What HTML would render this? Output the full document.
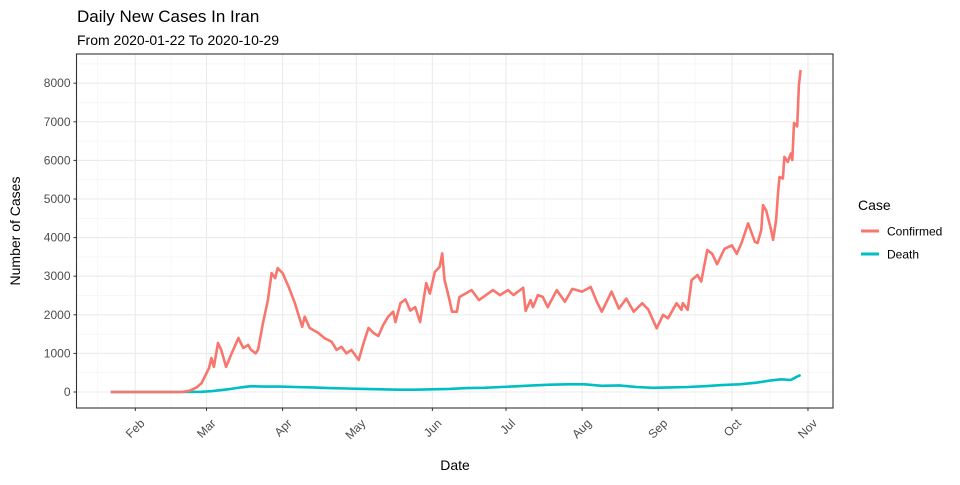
<!DOCTYPE html>
<html><head><meta charset="utf-8"><style>
body{margin:0;background:#fff;font-family:"Liberation Sans",sans-serif}
svg text{font-family:"Liberation Sans",sans-serif}
</style></head><body>
<svg id="c" width="960" height="480" xmlns="http://www.w3.org/2000/svg">
<text x="77" y="22" font-size="17" fill="#000">Daily New Cases In Iran</text>
<text x="77" y="45" font-size="14" fill="#000">From 2020-01-22 To 2020-10-29</text>
<g id="grid"></g><g id="series"></g><g id="axes"></g>
<text x="455" y="470" font-size="14" fill="#000" text-anchor="middle">Date</text>
<text transform="translate(20,231) rotate(-90)" font-size="14" fill="#000" text-anchor="middle">Number of Cases</text>
<g>
<text x="858" y="210" font-size="14" fill="#000">Case</text>
<g><line x1="861" x2="879" y1="231" y2="231" stroke="#F8766D" stroke-width="3"/><text x="887" y="235.5" font-size="12" fill="#000">Confirmed</text></g>
<g><line x1="861" x2="879" y1="254" y2="254" stroke="#00BFC4" stroke-width="3"/><text x="887" y="258.5" font-size="12" fill="#000">Death</text></g>
</g>
</svg>
<script>
// days since 2020-01-01
const confDays=[21,50,53,56,58,61,62,63,64.7,66,68,70,73,75,77,78,80,81,83,85,86.5,88,89,91,93.5,96,99,100,102,105.5,108,111,113,115,117,119,122,124,126,128,130,132,134,136,137,139,141,143,145,147,149.5,151,153,155,156,157,159,160,162,163,168,171,176.7,179.5,182.8,185,189,190,192,193,195,197,199,202.7,206,209,213,216.5,219,221,225,228,231,234,237.5,240,243.4,246,248,251.5,253.5,254,256,257.6,260,261.5,264,266,268,271,274,276,278,280.6,283.4,284.5,286,286.7,288,290,290.8,292,292.8,293.4,294.8,295.4,296.8,298,298.6,299.3,300.6,301.3,302];
const confVals=[0,0,30,120,230,620,880,650,1270,1090,650,960,1400,1140,1220,1100,1000,1100,1790,2380,3080,2950,3210,3080,2720,2300,1690,1950,1660,1530,1400,1300,1090,1170,1000,1090,830,1270,1660,1530,1450,1740,1950,2080,1810,2300,2400,2110,2200,1810,2820,2550,3110,3240,3590,2900,2380,2080,2080,2460,2640,2380,2640,2510,2640,2510,2700,2100,2380,2200,2510,2460,2200,2640,2340,2670,2600,2720,2340,2080,2600,2160,2420,2080,2300,2130,1650,2000,1910,2300,2130,2300,2130,2900,3030,2860,3680,3580,3310,3710,3800,3580,3870,4370,3890,3860,4200,4840,4700,4200,3940,4450,5150,5570,5530,6090,5960,6180,6010,6970,6880,7950,8340];
const deathDays=[21,48,58,62,66,70,74,78,83,90,96,103,110,117,124,131,138,145,152,159,166,173,180,187,193,200,207,214,221,228,235,242,249,256,263,270,277,284,290,294,298,300,302];
const deathVals=[0,0,5,20,50,80,120,150,140,140,130,120,100,90,80,70,60,60,70,80,100,110,130,150,170,190,200,200,160,170,130,110,120,130,150,180,200,240,300,330,310,380,440];
const yTicks=[0,1000,2000,3000,4000,5000,6000,7000,8000];
const monthLabels=["Feb","Mar","Apr","May","Jun","Jul","Aug","Sep","Oct","Nov"];
const monthDays=[31,60,91,121,152,182,213,244,274,305];
const L=76.5,R=833,T=54,B=408;
const xs=d=>135.3+(d-31)*2.455;
const ys=v=>392-v*0.0386;
const NS="http://www.w3.org/2000/svg";
function mk(p,tag,at){const e=document.createElementNS(NS,tag);for(const k in at)e.setAttribute(k,at[k]);p.appendChild(e);return e;}
const grid=document.getElementById('grid'),axes=document.getElementById('axes'),ser=document.getElementById('series');
mk(grid,'rect',{x:L,y:T,width:R-L,height:B-T,fill:'#fff'});
for(let i=0;i<yTicks.length;i++){const v=yTicks[i]+500;const y=ys(v);if(y>T){const l=mk(grid,'line',{x1:L,x2:R,y1:y,y2:y,stroke:'#f2f2f2','stroke-width':0.6});}}
{const y=ys(-500);if(y<B)mk(grid,'line',{x1:L,x2:R,y1:y,y2:y,stroke:'#f2f2f2','stroke-width':0.6});}
for(let i=0;i<monthDays.length;i++){const a=i?monthDays[i-1]:0;const x=xs((a+monthDays[i])/2);if(x>L&&x<R){const l=mk(grid,'line',{x1:x,x2:x,y1:T,y2:B,stroke:'#f2f2f2','stroke-width':0.6});}}
for(const v of yTicks){const y=ys(v);
const l=mk(grid,'line',{x1:L,x2:R,y1:y,y2:y,stroke:'#ebebeb','stroke-width':1.1});

mk(axes,'line',{x1:L-3,x2:L,y1:y,y2:y,stroke:'#333','stroke-width':1});
const t=mk(axes,'text',{x:L-6,y:y+4,'font-size':12,fill:'#4d4d4d','text-anchor':'end'});t.textContent=v;
}
for(let i=0;i<monthDays.length;i++){const x=xs(monthDays[i]);
const l=mk(grid,'line',{x1:x,x2:x,y1:T,y2:B,stroke:'#ebebeb','stroke-width':1.1});

mk(axes,'line',{x1:x,x2:x,y1:B,y2:B+3,stroke:'#333','stroke-width':1});
const t=mk(axes,'text',{transform:`translate(${x+10},${B+16}) rotate(-45)`,'font-size':12,fill:'#4d4d4d','text-anchor':'end'});t.textContent=monthLabels[i];
}
mk(axes,'rect',{x:L,y:T,width:R-L,height:B-T,fill:'none',stroke:'#333','stroke-width':1.1});
function line(days,vals,col,name){const p=mk(ser,'path',{d:days.map((d,i)=>(i?'L':'M')+xs(d).toFixed(1)+','+ys(vals[i]).toFixed(1)).join(''),fill:'none',stroke:col,'stroke-width':2.6,'stroke-linejoin':'round'});
}
line(deathDays,deathVals,'#00BFC4','death-line');
line(confDays,confVals,'#F8766D','confirmed-line');
</script>
</body></html>
